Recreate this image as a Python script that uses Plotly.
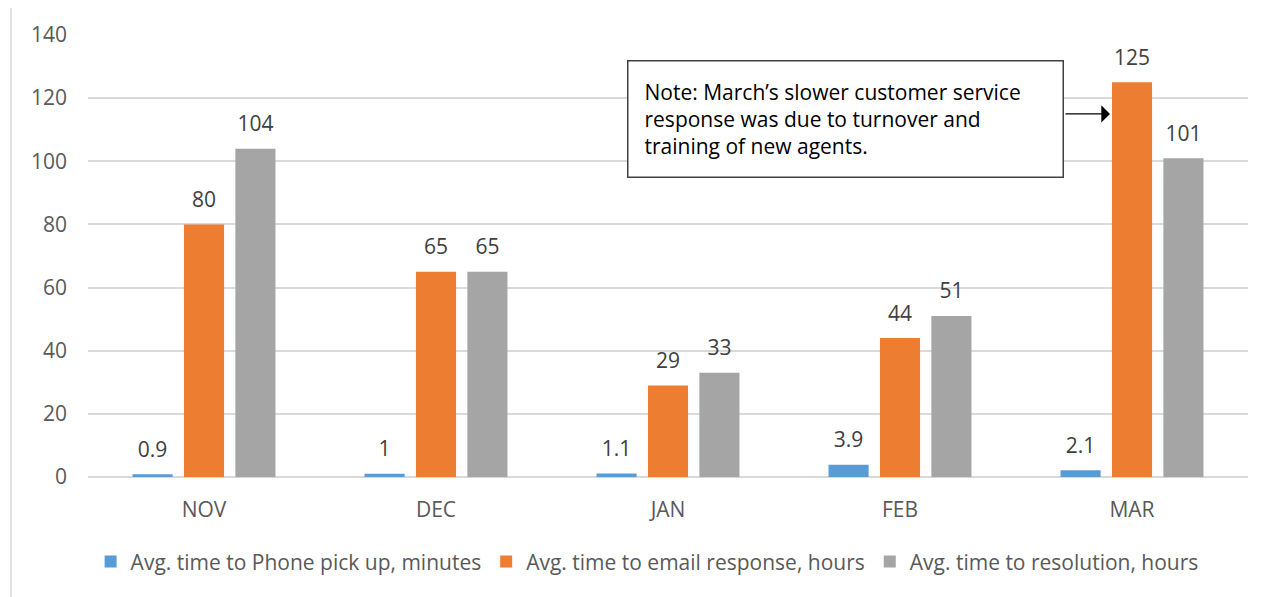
import plotly.graph_objects as go

months = ["NOV", "DEC", "JAN", "FEB", "MAR"]
phone = [0.9, 1, 1.1, 3.9, 2.1]
email = [80, 65, 29, 44, 125]
resolution = [104, 65, 33, 51, 101]
series_names = ["Avg. time to Phone pick up, minutes",
                "Avg. time to email response, hours",
                "Avg. time to resolution, hours"]
colors = ["#5B9BD5", "#ED7D31", "#A5A5A5"]
y_ticks = [0, 20, 40, 60, 80, 100, 120, 140]

FONT = "Open Sans"
FS = 21
fig = go.Figure()
for i, (name, vals, col) in enumerate(zip(series_names, [phone, email, resolution], colors)):
    fig.add_trace(go.Bar(
        x=months, y=vals, name=name, marker_color=col, marker_line_width=0,
        offsetgroup=str(i),
    ))
for i, vals in enumerate([phone, email, resolution]):
    fig.add_trace(go.Scatter(
        x=months, y=vals, mode="markers+text", offsetgroup=str(i),
        marker=dict(size=18, opacity=0), showlegend=False, hoverinfo="skip",
        text=[str(v) for v in vals], textposition="top center", cliponaxis=False,
        textfont=dict(family=FONT, size=FS, color="#404040"),
    ))

fig.update_layout(
    width=1267, height=589,
    margin=dict(l=80, r=27, t=27, b=120),
    paper_bgcolor="white", plot_bgcolor="white",
    barmode="group", bargap=0.335, bargroupgap=0.22,
    scattermode="group", scattergap=0.335,
    font=dict(family=FONT, size=FS, color="#595959"),
    showlegend=True,
    legend=dict(orientation="h", x=0.482, xanchor="center", y=-0.192, yanchor="middle",
                font=dict(family=FONT, size=FS, color="#595959"), itemwidth=30),
    xaxis=dict(showgrid=False, showline=False, ticks="", ticklabelstandoff=18,
               tickfont=dict(family=FONT, size=FS, color="#595959")),
    yaxis=dict(range=[0, 140], tickvals=y_ticks, showgrid=True, gridcolor="#D9D9D9",
               gridwidth=1.5, zeroline=True, zerolinecolor="#D9D9D9", zerolinewidth=1.5,
               showline=False, ticks="", ticklabelstandoff=20,
               tickfont=dict(family=FONT, size=FS, color="#595959")),
)

# outer chart border
fig.add_shape(type="rect", xref="paper", yref="paper",
              x0=-0.0664, x1=1.05, y0=-0.6, y1=1.0656,
              line=dict(color="#D9D9D9", width=1.5), fillcolor="rgba(0,0,0,0)", layer="below")

# note box
fig.add_annotation(
    xref="paper", yref="paper", x=0.4647, y=0.9434, xanchor="left", yanchor="top",
    text="Note: March’s slower customer service<br>response was due to turnover and<br>training of new agents.",
    showarrow=False, align="left", width=402,
    bordercolor="#404040", borderwidth=1.5, borderpad=16, bgcolor="white",
    font=dict(family=FONT, size=FS, color="#000000"),
)
# arrow
fig.add_annotation(
    xref="paper", yref="y", x=0.881, y=115, ax=-46, ay=0, axref="pixel", ayref="pixel",
    text="", showarrow=True, arrowhead=1, arrowsize=2.4, arrowwidth=1.2, arrowcolor="#000000",
)

fig.write_html("out.html")
